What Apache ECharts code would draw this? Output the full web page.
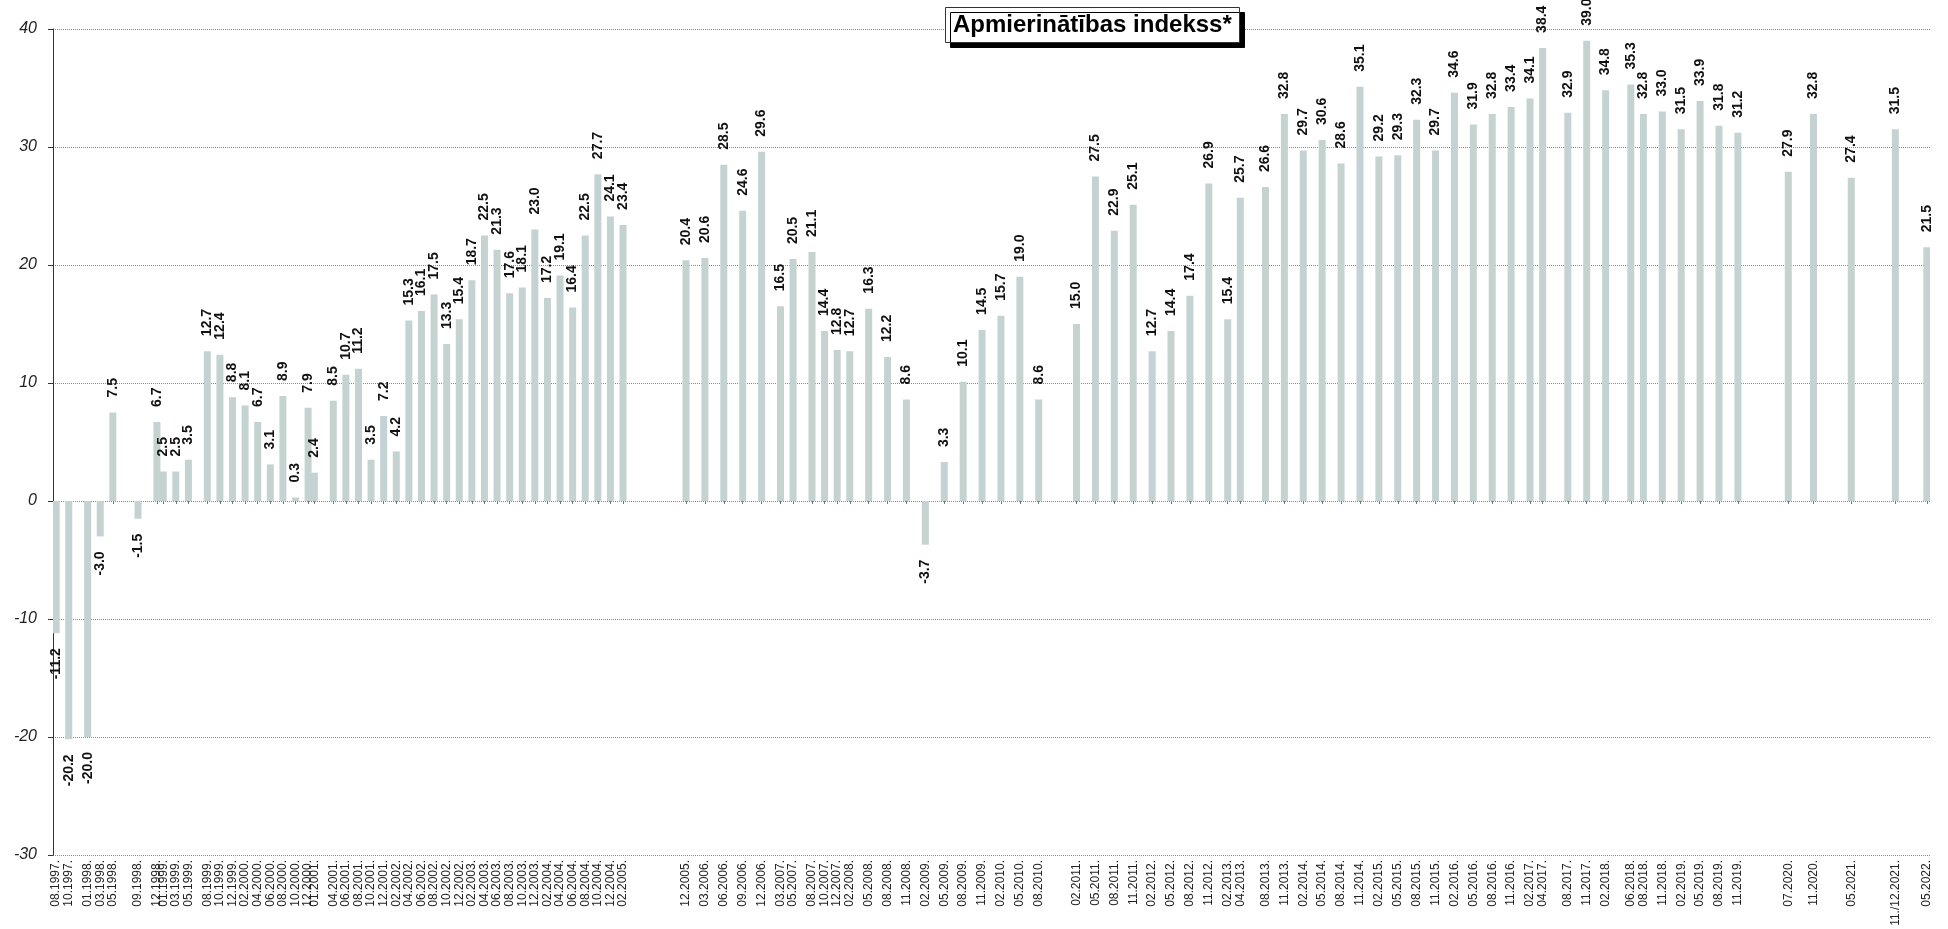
<!DOCTYPE html>
<html>
<head>
<meta charset="utf-8">
<script src="https://cdn.jsdelivr.net/npm/echarts@6/dist/echarts.min.js"></script>
<style>
html,body{margin:0;padding:0;background:#fff;}
#chart{width:1948px;height:929px;}
</style>
</head>
<body>
<div id="chart"></div>
<script>
const titleText = 'Apmierinātības indekss*';

// Survey dates as shown on the axis
const surveyLabels = [
  '08.1997.','10.1997.','01.1998.','03.1998.','05.1998.','09.1998.','12.1998.','01.1999.','03.1999.','05.1999.',
  '08.1999.','10.1999.','12.1999.','02.2000.','04.2000.','06.2000.','08.2000.','10.2000.','12.2000.','01.2001.',
  '04.2001.','06.2001.','08.2001.','10.2001.','12.2001.','02.2002.','04.2002.','06.2002.','08.2002.','10.2002.',
  '12.2002.','02.2003.','04.2003.','06.2003.','08.2003.','10.2003.','12.2003.','02.2004.','04.2004.','06.2004.',
  '08.2004.','10.2004.','12.2004.','02.2005.',
  '12.2005.','03.2006.','06.2006.','09.2006.','12.2006.','03.2007.','05.2007.','08.2007.','10.2007.','12.2007.',
  '02.2008.','05.2008.','08.2008.','11.2008.','02.2009.','05.2009.','08.2009.','11.2009.','02.2010.','05.2010.',
  '08.2010.',
  '02.2011.','05.2011.','08.2011.','11.2011.','02.2012.','05.2012.','08.2012.','11.2012.','02.2013.','04.2013.',
  '08.2013.','11.2013.','02.2014.','05.2014.','08.2014.','11.2014.','02.2015.','05.2015.','08.2015.','11.2015.',
  '02.2016.','05.2016.','08.2016.','11.2016.','02.2017.','04.2017.','08.2017.','11.2017.','02.2018.','06.2018.',
  '08.2018.','11.2018.','02.2019.','05.2019.','08.2019.','11.2019.','07.2020.','11.2020.','05.2021.','11./12.2021.',
  '05.2022.'
];

// Index values
const surveyValues = [
  -11.2,-20.2,-20.0,-3.0,7.5,-1.5,6.7,2.5,2.5,3.5,
  12.7,12.4,8.8,8.1,6.7,3.1,8.9,0.3,7.9,2.4,
  8.5,10.7,11.2,3.5,7.2,4.2,15.3,16.1,17.5,13.3,
  15.4,18.7,22.5,21.3,17.6,18.1,23.0,17.2,19.1,16.4,
  22.5,27.7,24.1,23.4,
  20.4,20.6,28.5,24.6,29.6,16.5,20.5,21.1,14.4,12.8,
  12.7,16.3,12.2,8.6,-3.7,3.3,10.1,14.5,15.7,19.0,
  8.6,
  15.0,27.5,22.9,25.1,12.7,14.4,17.4,26.9,15.4,25.7,
  26.6,32.8,29.7,30.6,28.6,35.1,29.2,29.3,32.3,29.7,
  34.6,31.9,32.8,33.4,34.1,38.4,32.9,39.0,34.8,35.3,
  32.8,33.0,31.5,33.9,31.8,31.2,27.9,32.8,27.4,31.5,
  21.5
];

const yMin = -30, yMax = 40, yStep = 10;
const axisStart = {year: 1997, month: 8};
const axisEnd = {year: 2022, month: 5};

// Monthly time axis (categories)
const monthKeys = [];
for (let y = axisStart.year, m = axisStart.month; y < axisEnd.year || (y === axisEnd.year && m <= axisEnd.month); ) {
  monthKeys.push((m < 10 ? '0' : '') + m + '.' + y);
  m++; if (m > 12) { m = 1; y++; }
}

const labelByMonth = {};
const valueByMonth = {};
surveyLabels.forEach((lab, i) => {
  const mt = lab.match(/(\d{2})\.(\d{4})\.$/);
  const key = mt[1] + '.' + mt[2];
  labelByMonth[key] = lab;
  valueByMonth[key] = surveyValues[i];
});

const barData = monthKeys.map(k => {
  if (!(k in valueByMonth)) return '-';
  const v = valueByMonth[k];
  if (v < 0) {
    return { value: v, label: { position: 'bottom', align: 'right' } };
  }
  return { value: v };
});

const FONT = "'Liberation Sans', Arial, Helvetica, sans-serif";
const hasLabel = (i) => monthKeys[i] in labelByMonth;

const chart = echarts.init(document.getElementById('chart'), null, {renderer: 'canvas'});
chart.setOption({
  animation: false,
  backgroundColor: '#ffffff',
  title: {
    text: titleText,
    left: 945,
    top: 7,
    padding: [5, 8, 5, 8],
    backgroundColor: '#ffffff',
    borderColor: '#333333',
    borderWidth: 1,
    shadowColor: '#000000',
    shadowOffsetX: 5,
    shadowOffsetY: 5,
    shadowBlur: 0,
    textStyle: { fontFamily: FONT, fontSize: 24, fontWeight: 'bold', color: '#000000', lineHeight: 26 }
  },
  grid: { left: 53, right: 18, top: 29, bottom: 74, containLabel: false },
  xAxis: {
    type: 'category',
    data: monthKeys,
    boundaryGap: true,
    axisLine: { show: false },
    axisTick: {
      show: true,
      alignWithLabel: true,
      interval: (i) => hasLabel(i),
      length: 3,
      lineStyle: { color: '#777777', width: 1 }
    },
    axisLabel: {
      interval: (i) => hasLabel(i),
      rotate: 90,
      margin: 5,
      fontFamily: FONT,
      fontSize: 12,
      color: '#222222',
      formatter: (v) => labelByMonth[v] || ''
    },
    splitLine: { show: false }
  },
  yAxis: {
    type: 'value',
    min: yMin,
    max: yMax,
    interval: yStep,
    axisLine: { show: true, onZero: false, lineStyle: { color: '#333333', width: 1 } },
    axisTick: { show: true, length: 5, lineStyle: { color: '#333333' } },
    axisLabel: {
      margin: 16,
      fontFamily: FONT,
      fontSize: 16,
      fontStyle: 'italic',
      color: '#222222'
    },
    splitLine: { show: true, lineStyle: { color: '#8a8a8a', width: 1, type: [1, 1] } }
  },
  series: [{
    type: 'bar',
    data: barData,
    barWidth: 7,
    itemStyle: { color: '#c4d3d2' },
    label: {
      show: true,
      position: 'top',
      distance: 15,
      rotate: 90,
      align: 'left',
      verticalAlign: 'middle',
      fontFamily: FONT,
      fontSize: 14,
      fontWeight: 'bold',
      color: '#111111',
      formatter: (p) => Number(p.value).toFixed(1)
    },
    labelLayout: { hideOverlap: false }
  }]
});
</script>
</body>
</html>
